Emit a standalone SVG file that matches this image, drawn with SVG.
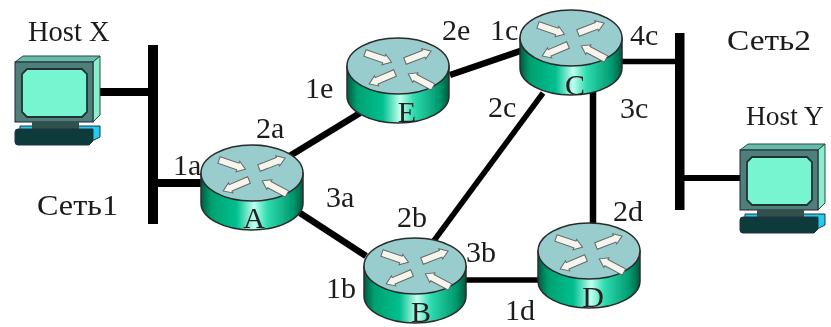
<svg xmlns="http://www.w3.org/2000/svg" xmlns:xlink="http://www.w3.org/1999/xlink" width="831" height="327" viewBox="0 0 831 327">
<style>
text{font-family:"Liberation Serif","Times New Roman",serif;font-size:30px;fill:#1a1a1a}
.h{font-size:28.500px}
.m{text-anchor:middle;fill:#222}
.c{stroke:#000;fill:none;stroke-width:6.500}
.bus{fill:#000}
.ar{fill:#f5f5ee;stroke:#666;stroke-width:1}
</style>
<defs>
<filter id="soft" x="-2%" y="-2%" width="104%" height="104%"><feGaussianBlur stdDeviation="0.55"/></filter>
<linearGradient id="body" x1="0" x2="1" y1="0" y2="0">
<stop offset="0" stop-color="#005a40"/><stop offset=".1" stop-color="#00a070"/><stop offset=".35" stop-color="#00c090"/><stop offset=".52" stop-color="#c0fff0"/><stop offset=".65" stop-color="#30dcb0"/><stop offset=".9" stop-color="#009a70"/><stop offset="1" stop-color="#005a40"/>
</linearGradient>
<path id="arrow" class="ar" d="M0-3.500H20V-5.500L28 0 20 5.500V3.500H0Z"/>
<g id="router">
<path d="M-51 0V30C-51 45-28 57 0 57S51 45 51 30V0Z" fill="url(#body)" stroke="#2b2b2b" stroke-width="1.500"/>
<ellipse cx="0" cy="0" rx="51" ry="28" fill="#99cccc" stroke="#2b2b2b" stroke-width="1.500"/>
<use xlink:href="#arrow" transform="translate(-33 -13) rotate(19)"/>
<use xlink:href="#arrow" transform="translate(7 -5) rotate(-21)"/>
<use xlink:href="#arrow" transform="translate(-3 7) rotate(157)"/>
<use xlink:href="#arrow" transform="translate(35 21) rotate(208)"/>
</g>
<g id="host">
<path d="M15 62 23 56H100L93 62Z" fill="#66bbaa" stroke="#2c4a44"/>
<path d="M93 62 100 56V115L93 122Z" fill="#88eecc" stroke="#2c4a44"/>
<rect x="15" y="62" width="78" height="60" fill="#4f7f7a" stroke="#223"/>
<path d="M27 69H82L87 74V112L82 117H27L22 112V74Z" fill="#77f5d0" stroke="#233" stroke-width="1.800"/>
<path d="M20 126H100V137L94 140H20Z" fill="#22ccee" stroke="#234"/>
<rect x="32" y="122" width="47" height="7" fill="#33514e"/>
<path d="M15 132Q15 129 18 129H93V141L89 145H18Q15 145 15 142Z" fill="#0b3a3a" stroke="#234"/>
</g>
</defs>
<rect width="831" height="327" fill="#fff"/>
<g filter="url(#soft)">
<g id="connectors">
<path class="c" d="M100 92H150" style="stroke-width:8"/>
<path class="c" d="M156 183H205" style="stroke-width:8"/>
<path class="c" d="M288 157 360 113"/>
<path class="c" d="M450 75 523 50"/>
<path class="c" d="M543 93 433 242" style="stroke-width:5.500"/>
<path class="c" d="M593 90V226"/>
<path class="c" d="M300 213 366 256"/>
<path class="c" d="M463 280H540" style="stroke-width:5.500"/>
<path class="c" d="M620 61.500H678" style="stroke-width:5.500"/>
<path class="c" d="M682 178H741" style="stroke-width:6"/>
<rect class="bus" x="148" y="45" width="10" height="179"/>
<rect class="bus" x="675" y="33" width="9.500" height="177"/>
</g>
<g id="host-x"><use xlink:href="#host"/><text class="h" x="28" y="41">Host X</text></g>
<g id="host-y"><use xlink:href="#host" transform="translate(725 88)"/><text class="h" x="746" y="125" style="font-size:27.500px">Host Y</text></g>
<g id="router-a"><use xlink:href="#router" transform="translate(252 173)"/><text class="m" x="254" y="228">A</text></g>
<g id="router-e"><use xlink:href="#router" transform="translate(398 66)"/><text class="m" x="407" y="122">E</text></g>
<g id="router-c"><use xlink:href="#router" transform="translate(571 38)"/><text class="m" x="575" y="95">C</text></g>
<g id="router-b"><use xlink:href="#router" transform="translate(415 266)"/><text class="m" x="421" y="322">B</text></g>
<g id="router-d"><use xlink:href="#router" transform="translate(589 251)"/><text class="m" x="593" y="307">D</text></g>
<g id="labels">
<text x="37" y="215" textLength="81" lengthAdjust="spacingAndGlyphs">Сеть1</text>
<text x="727" y="50" textLength="84" lengthAdjust="spacingAndGlyphs">Сеть2</text>
<text x="173" y="175">1a</text>
<text x="256" y="138">2a</text>
<text x="326" y="207">3a</text>
<text x="305" y="98">1e</text>
<text x="442" y="40">2e</text>
<text x="490" y="40">1c</text>
<text x="488" y="117">2c</text>
<text x="630" y="45">4c</text>
<text x="620" y="118">3c</text>
<text x="613" y="221">2d</text>
<text x="397" y="227">2b</text>
<text x="466" y="262">3b</text>
<text x="326" y="298">1b</text>
<text x="505" y="320">1d</text>
</g>
</g>
</svg>
